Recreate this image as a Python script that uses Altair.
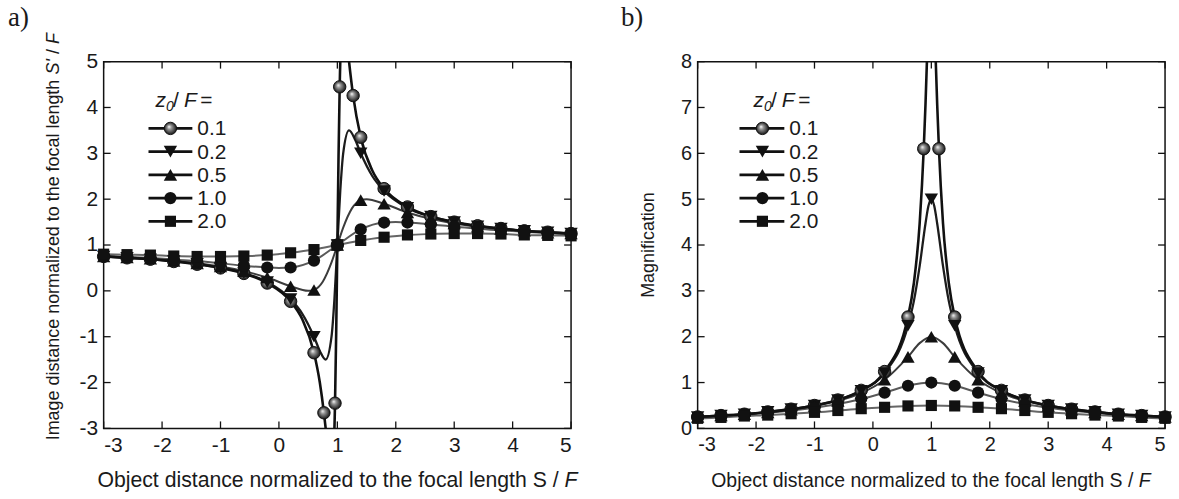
import altair as alt
import pandas as pd

FONT = "Liberation Sans"
SERIF = "Liberation Serif"
INK = "#1a1a1a"

SERIES = ["0.1", "0.2", "0.5", "1.0", "2.0"]
X_TICKS = [-3, -2, -1, 0, 1, 2, 3, 4, 5]
YA_TICKS = [-3, -2, -1, 0, 1, 2, 3, 4, 5]
YB_TICKS = [0, 1, 2, 3, 4, 5, 6, 7, 8]

X_GRID = [-3.0, -2.6, -2.2, -1.8, -1.4, -1.0, -0.6, -0.2, 0.2, 0.6, 1.0,
          1.4, 1.8, 2.2, 2.6, 3.0, 3.4, 3.8, 4.2, 4.6, 5.0]

# ---- panel a) image distance S'/F : marker values ----
A_X_01 = [-3.0, -2.6, -2.2, -1.8, -1.4, -1.0, -0.6, -0.2, 0.2, 0.6, 0.77, 0.96, 1.0,
          1.04, 1.27, 1.4, 1.8, 2.2, 2.6, 3.0, 3.4, 3.8, 4.2, 4.6, 5.0]
A_Y_01 = [0.75, 0.72, 0.69, 0.64, 0.58, 0.50, 0.38, 0.17, -0.23, -1.35, -2.66, -2.45, 1.00,
          4.45, 4.26, 3.35, 2.23, 1.83, 1.62, 1.50, 1.42, 1.36, 1.31, 1.28, 1.25]
A_Y_02 = [0.75, 0.72, 0.69, 0.65, 0.59, 0.50, 0.39, 0.19, -0.18, -1.00, 1.00,
          3.00, 2.18, 1.81, 1.62, 1.50, 1.41, 1.36, 1.31, 1.28, 1.25]
A_Y_05 = [0.75, 0.73, 0.70, 0.65, 0.60, 0.53, 0.43, 0.29, 0.10, 0.02, 1.00,
          1.98, 1.90, 1.71, 1.57, 1.47, 1.40, 1.35, 1.31, 1.27, 1.25]
A_Y_10 = [0.76, 0.74, 0.72, 0.68, 0.65, 0.60, 0.55, 0.51, 0.51, 0.66, 1.00,
          1.34, 1.49, 1.49, 1.45, 1.40, 1.36, 1.32, 1.29, 1.26, 1.24]
A_Y_20 = [0.80, 0.79, 0.78, 0.76, 0.75, 0.75, 0.76, 0.78, 0.83, 0.90, 1.00,
          1.10, 1.17, 1.22, 1.24, 1.25, 1.25, 1.24, 1.22, 1.21, 1.20]
# extra points of the drawn curves (between markers, some beyond the frame)
A_LX_01 = [0.4, 0.7, 0.8, 0.85, 0.9, 0.93, 0.98, 1.02, 1.07, 1.1, 1.15, 1.2, 1.6]
A_LY_01 = [-0.62, -2.0, -3.0, -3.6, -4.0, -3.7, -0.92, 2.92, 5.7, 6.0, 5.62, 5.0, 2.62]
A_LX_02 = [0.4, 0.7, 0.8, 0.9, 0.95, 1.05, 1.1, 1.2, 1.3, 1.6]
A_LY_02 = [-0.50, -1.31, -1.50, -1.00, -0.18, 2.18, 3.00, 3.50, 3.31, 2.50]
A_LX_05 = [0.5, 0.75, 0.9, 1.1, 1.25, 1.5]
A_LY_05 = [0.00, 0.20, 0.62, 1.38, 1.80, 2.00]
A_LX_10 = [0.0, 2.0]
A_LY_10 = [0.50, 1.50]

# ---- panel b) magnification : marker values ----
B_X_01 = [-3.0, -2.6, -2.2, -1.8, -1.4, -1.0, -0.6, -0.2, 0.2, 0.6, 0.87, 1.13,
          1.4, 1.8, 2.2, 2.6, 3.0, 3.4, 3.8, 4.2, 4.6, 5.0]
B_Y_01 = [0.25, 0.28, 0.31, 0.36, 0.42, 0.50, 0.62, 0.83, 1.24, 2.43, 6.10, 6.10,
          2.43, 1.24, 0.83, 0.62, 0.50, 0.42, 0.36, 0.31, 0.28, 0.25]
B_Y_02 = [0.25, 0.28, 0.31, 0.36, 0.42, 0.50, 0.62, 0.82, 1.21, 2.24, 5.00,
          2.24, 1.21, 0.82, 0.62, 0.50, 0.42, 0.36, 0.31, 0.28, 0.25]
B_Y_05 = [0.25, 0.28, 0.31, 0.35, 0.41, 0.49, 0.60, 0.77, 1.06, 1.56, 2.00,
          1.56, 1.06, 0.77, 0.60, 0.49, 0.41, 0.35, 0.31, 0.28, 0.25]
B_Y_10 = [0.24, 0.27, 0.30, 0.34, 0.39, 0.45, 0.53, 0.64, 0.78, 0.93, 1.00,
          0.93, 0.78, 0.64, 0.53, 0.45, 0.39, 0.34, 0.30, 0.27, 0.24]
B_Y_20 = [0.22, 0.24, 0.27, 0.29, 0.32, 0.35, 0.39, 0.43, 0.46, 0.49, 0.50,
          0.49, 0.46, 0.43, 0.39, 0.35, 0.32, 0.29, 0.27, 0.24, 0.22]
B_LX_01 = [0.7, 0.8, 0.9, 0.95, 1.0, 1.05, 1.1, 1.2, 1.3]
B_LY_01 = [3.16, 4.47, 7.07, 8.94, 10.0, 8.94, 7.07, 4.47, 3.16]
B_LX_02 = [0.7, 0.8, 0.9, 0.95, 1.05, 1.1, 1.2, 1.3]
B_LY_02 = [2.77, 3.54, 4.47, 4.85, 4.85, 4.47, 3.54, 2.77]
B_LX_05 = [0.8, 1.2]
B_LY_05 = [1.86, 1.86]

# ---- styles ----
LINE_COLOR = {"0.1": "#111111", "0.2": "#1c1c1c", "0.5": "#3c3c3c", "1.0": "#595959", "2.0": "#666666"}
LINE_WIDTH = {"0.1": 2.6, "0.2": 2.3, "0.5": 2.0, "1.0": 2.0, "2.0": 2.0}
SHAPE = {"0.2": "triangle-down", "0.5": "triangle-up", "1.0": "circle", "2.0": "square"}
SIZE = {"0.1": 155, "0.2": 180, "0.5": 180, "1.0": 150, "2.0": 125}
SPHERE = alt.RadialGradient(
    gradient="radial",
    stops=[alt.GradientStop(color="#ffffff", offset=0),
           alt.GradientStop(color="#9a9a9a", offset=0.3),
           alt.GradientStop(color="#262626", offset=0.85),
           alt.GradientStop(color="#111111", offset=1)],
    x1=0.38, y1=0.36, r1=0.0, x2=0.5, y2=0.5, r2=0.55)

W, H = 469, 368
ONE = pd.DataFrame({"k": [0]})
HYPHEN = "replace(datum.label, '\u2212', '-')"


def txt(s, x, y, size, style="normal", align="left", baseline="alphabetic", angle=None, font=FONT):
    kw = dict(text=s, font=font, fontSize=size, fontStyle=style, align=align,
              baseline=baseline, color=INK)
    if angle is not None:
        kw["angle"] = angle
    return alt.Chart(ONE).mark_text(**kw).encode(x=alt.value(x), y=alt.value(y))


def marker(chart_data, s, enc):
    if s == "0.1":
        m = chart_data.mark_point(shape="circle", size=SIZE[s], filled=True, fill=SPHERE,
                                  stroke="#111111", strokeWidth=1, opacity=1)
    else:
        m = chart_data.mark_point(shape=SHAPE[s], size=SIZE[s], filled=True,
                                  color="#111111", opacity=1)
    return m.encode(**enc)


def panel(mk, ln, ydom, yticks, tick_fs, tag, tag_x, ytitle_layers, xtitle, xtitle_fs,
          xt_split, leg):
    xs = alt.Scale(domain=[-3, 5], nice=False, zero=False)
    ys = alt.Scale(domain=ydom, nice=False, zero=False)
    xax = alt.Axis(values=X_TICKS, ticks=False, domain=False, grid=False, labelFont=FONT,
                   labelFontSize=tick_fs, labelColor=INK, labelPadding=6, labelExpr=HYPHEN,
                   title=None)
    yax = alt.Axis(values=yticks, ticks=False, domain=False, grid=False, labelFont=FONT,
                   labelFontSize=tick_fs, labelColor=INK, labelPadding=6, labelExpr=HYPHEN,
                   title=None)
    layers = []
    for s in ["2.0", "1.0", "0.5", "0.2", "0.1"]:
        xm, ym = mk[s]
        lx, ly = ln.get(s, ([], []))
        df = pd.DataFrame({"x": list(xm) + list(lx), "y": list(ym) + list(ly)})
        df = df.drop_duplicates("x").sort_values("x")
        layers.append(alt.Chart(df).mark_line(clip=True, interpolate="monotone",
                                              color=LINE_COLOR[s], strokeWidth=LINE_WIDTH[s])
                      .encode(x=alt.X("x:Q", scale=xs, axis=xax),
                              y=alt.Y("y:Q", scale=ys, axis=yax)))
    for s in SERIES:
        xm, ym = mk[s]
        df = pd.DataFrame({"x": xm, "y": ym})
        layers.append(marker(alt.Chart(df), s,
                             dict(x=alt.X("x:Q", scale=xs, axis=xax),
                                  y=alt.Y("y:Q", scale=ys, axis=yax))))
    # inward ticks on all four sides
    tx = pd.DataFrame({"t": X_TICKS})
    ty = pd.DataFrame({"t": yticks})
    rk = dict(color="#111111", strokeWidth=1.3)
    layers.append(alt.Chart(tx).mark_rule(**rk).encode(
        x=alt.X("t:Q", scale=xs, axis=xax), y=alt.value(0), y2=alt.value(7)))
    layers.append(alt.Chart(tx).mark_rule(**rk).encode(
        x=alt.X("t:Q", scale=xs, axis=xax), y=alt.value(H), y2=alt.value(H - 7)))
    layers.append(alt.Chart(ty).mark_rule(**rk).encode(
        y=alt.Y("t:Q", scale=ys, axis=yax), x=alt.value(0), x2=alt.value(7)))
    layers.append(alt.Chart(ty).mark_rule(**rk).encode(
        y=alt.Y("t:Q", scale=ys, axis=yax), x=alt.value(W), x2=alt.value(W - 7)))
    # legend
    hx, hy = leg["hx"], leg["hy"]
    layers += [txt("z", hx, hy, 21, "italic"),
               txt("0", hx + 10.5, hy + 4, 14, "italic"),
               txt("/", hx + 17.5, hy, 21),
               txt("F", hx + 28.5, hy, 21, "italic"),
               txt("=", hx + 45, hy, 21)]
    for i, s in enumerate(SERIES):
        yy = leg["y0"] + i * leg["dy"]
        layers.append(alt.Chart(ONE).mark_rule(color="#111111", strokeWidth=2.8).encode(
            x=alt.value(leg["x1"]), x2=alt.value(leg["x2"]), y=alt.value(yy)))
        layers.append(marker(alt.Chart(ONE), s, dict(x=alt.value(leg["xm"]), y=alt.value(yy))))
        layers.append(txt(s, leg["xl"], yy + 1, 21, baseline="middle"))
    # panel tag
    layers.append(txt(tag, tag_x, -36, 27, font=SERIF))
    # axis titles
    layers += ytitle_layers
    main_right, f_left = xt_split
    layers.append(txt(xtitle, main_right, 427, xtitle_fs, align="right"))
    layers.append(txt("F", f_left, 427, xtitle_fs, "italic"))
    return alt.layer(*layers).properties(width=W, height=H)


mk_a = {"0.1": (A_X_01, A_Y_01), "0.2": (X_GRID, A_Y_02), "0.5": (X_GRID, A_Y_05),
        "1.0": (X_GRID, A_Y_10), "2.0": (X_GRID, A_Y_20)}
ln_a = {"0.1": (A_LX_01, A_LY_01), "0.2": (A_LX_02, A_LY_02), "0.5": (A_LX_05, A_LY_05),
        "1.0": (A_LX_10, A_LY_10)}
mk_b = {"0.1": (B_X_01, B_Y_01), "0.2": (X_GRID, B_Y_02), "0.5": (X_GRID, B_Y_05),
        "1.0": (X_GRID, B_Y_10), "2.0": (X_GRID, B_Y_20)}
ln_b = {"0.1": (B_LX_01, B_LY_01), "0.2": (B_LX_02, B_LY_02), "0.5": (B_LX_05, B_LY_05)}

ytitle_a = [
    txt("Image distance normalized to the focal length", -45, 380, 18, angle=270),
    txt("S'", -45, 12.8, 18, "italic", angle=270),
    txt("/", -45, -7.6, 18, angle=270),
    txt("F", -45, -17.6, 18, "italic", angle=270),
]
ytitle_b = [txt("Magnification", -44, H / 2, 18, align="center", angle=270)]

XT = "Object distance normalized to the focal length S /"

pa = panel(mk_a, ln_a, [-3, 5], YA_TICKS, 21, "a)", -96, ytitle_a, XT, 21.3, (456.5, 462.4),
           dict(hx=52, hy=46, x1=45, x2=89, xm=67, xl=94, y0=67, dy=23.3))
pb = panel(mk_b, ln_b, [0, 8], YB_TICKS, 20, "b)", -77, ytitle_b, XT, 19.5, (437.2, 442.6),
           dict(hx=56, hy=46, x1=42, x2=87, xm=65, xl=92, y0=67, dy=23.3))

chart = (alt.hconcat(pa, pb, spacing=40)
         .properties(padding={"left": 7, "top": 2, "right": 5, "bottom": 5},
                     background="white")
         .configure_view(stroke="#111111", strokeWidth=1.5))

chart.save("out.html", embed_options={"renderer": "svg", "actions": False})
